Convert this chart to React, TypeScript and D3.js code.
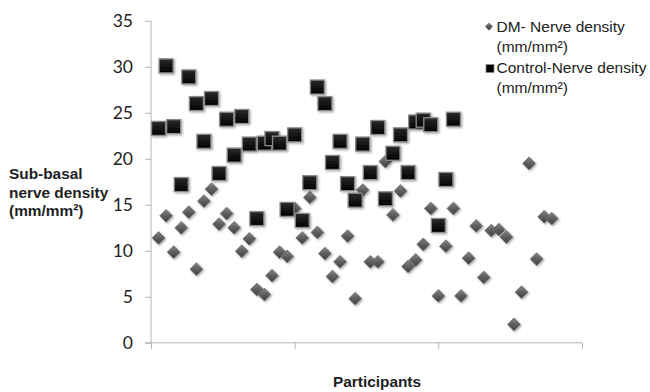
import React, { useEffect, useRef } from 'react';
import * as d3 from 'd3';

// Sub-basal nerve density per participant (mm/mm²)
const dmDensity = [
  11.4, 13.8, 9.85, 12.5, 14.2, 8.0, 15.4, 16.7, 12.9, 14.05,
  12.5, 9.95, 11.3, 5.8, 5.25, 7.3, 9.85, 9.4, 14.6, 11.4,
  15.8, 12.0, 9.7, 7.2, 8.8, 11.6, 4.8, 16.6, 8.8, 8.8,
  19.7, 13.9, 16.5, 8.3, 9.0, 10.7, 14.6, 5.1, 10.5, 14.6,
  5.1, 9.2, 12.7, 7.1, 12.2, 12.3, 11.5, 2.0, 5.5, 19.5,
  9.1, 13.7, 13.5,
];
const controlDensity = [
  23.3, 30.1, 23.5, 17.2, 28.9, 26.0, 21.9, 26.55, 18.4, 24.3,
  20.4, 24.6, 21.6, 13.5, 21.7, 22.2, 21.7, 14.5, 22.6, 13.3,
  17.4, 27.8, 26.0, 19.6, 21.9, 17.3, 15.5, 21.6, 18.5, 23.4,
  15.65, 20.6, 22.6, 18.5, 24.0, 24.2, 23.7, 12.75, 17.75, 24.3,
];
const yTicks = [0, 5, 10, 15, 20, 25, 30, 35];
const xTicks = [0, 19, 38, 57];
const legendLabels = [
  ['DM- Nerve density', '(mm/mm²)'],
  ['Control-Nerve density', '(mm/mm²)'],
];
const yTitle = ['Sub-basal', 'nerve density', '(mm/mm²)'];
const xTitle = 'Participants';

function App() {
  const svgRef = useRef<SVGSVGElement>(null);

  useEffect(() => {
    const width = 650;
    const height = 392;
    const svg = d3.select(svgRef.current).attr('width', width).attr('height', height);
    svg.selectAll('*').remove();

    const x = d3.scaleLinear().domain([0, 57]).range([151, 582]);
    const y = d3.scaleLinear().domain([0, 35]).range([342.8, 20.8]);

    const defs = svg.append('defs');
    const shadow = defs.append('filter').attr('id', 'shadow')
      .attr('x', '-40%').attr('y', '-40%').attr('width', '180%').attr('height', '180%');
    shadow.append('feDropShadow').attr('dx', 1.2).attr('dy', 1.2)
      .attr('stdDeviation', 1).attr('flood-color', '#000').attr('flood-opacity', 0.35);

    const dGrad = defs.append('linearGradient').attr('id', 'diamondGrad')
      .attr('x1', 0).attr('y1', 0).attr('x2', 0).attr('y2', 1);
    dGrad.append('stop').attr('offset', '0%').attr('stop-color', '#858585');
    dGrad.append('stop').attr('offset', '50%').attr('stop-color', '#5e5e5e');
    dGrad.append('stop').attr('offset', '100%').attr('stop-color', '#3f3f3f');

    const sGrad = defs.append('linearGradient').attr('id', 'squareGrad')
      .attr('x1', 0).attr('y1', 0).attr('x2', 0).attr('y2', 1);
    sGrad.append('stop').attr('offset', '0%').attr('stop-color', '#2a2a2a');
    sGrad.append('stop').attr('offset', '100%').attr('stop-color', '#000');

    // Axes
    const axisColor = '#b4b4b4';
    const yAxis = svg.append('g').attr('transform', `translate(${x(0)},0)`)
      .call(d3.axisLeft(y).tickValues(yTicks).tickSize(6).tickPadding(12).tickFormat(d3.format('d')));
    yAxis.select('.domain').attr('stroke', axisColor).attr('d', `M0,${y(35)}V${y(0)}`);
    yAxis.selectAll('.tick line').attr('stroke', axisColor);
    yAxis.selectAll('.tick text')
      .attr('font-family', 'Lato, "Open Sans", sans-serif')
      .attr('font-size', 17.5).attr('fill', '#1e1e1e');

    const xAxis = svg.append('g').attr('transform', `translate(0,${y(0)})`)
      .call(d3.axisBottom(x).tickValues(xTicks).tickSize(6).tickFormat(() => ''));
    xAxis.select('.domain').attr('stroke', axisColor).attr('d', `M${x(0) - 6},0H${x(57)}`);
    xAxis.selectAll('.tick line').attr('stroke', axisColor);

    const diamond = d3.symbol().type(d3.symbolDiamond2).size(104);

    // DM series
    svg.append('g').selectAll('path')
      .data(dmDensity)
      .enter()
      .append('path')
      .attr('d', diamond)
      .attr('transform', (d, i) => `translate(${x(i + 1)},${y(d)})`)
      .attr('fill', 'url(#diamondGrad)')
      .attr('stroke', '#6c6c6c')
      .attr('stroke-width', 0.8)
      .attr('filter', 'url(#shadow)');

    // Control series
    const sq = 14;
    svg.append('g').selectAll('rect')
      .data(controlDensity)
      .enter()
      .append('rect')
      .attr('x', (d, i) => x(i + 1) - sq / 2)
      .attr('y', d => y(d) - sq / 2)
      .attr('width', sq)
      .attr('height', sq)
      .attr('fill', 'url(#squareGrad)')
      .attr('stroke', '#8a8a8a')
      .attr('stroke-width', 1.3)
      .attr('filter', 'url(#shadow)');

    // Legend
    const legend = svg.append('g')
      .attr('font-family', '"Liberation Sans", Arial, sans-serif')
      .attr('font-size', 15.5).attr('fill', '#222');
    legend.append('path')
      .attr('d', d3.symbol().type(d3.symbolDiamond2).size(40)())
      .attr('transform', 'translate(489,26.5)')
      .attr('fill', 'url(#diamondGrad)');
    legend.append('rect')
      .attr('x', 486).attr('y', 64.5).attr('width', 8).attr('height', 8)
      .attr('fill', '#000').attr('stroke', '#8a8a8a').attr('stroke-width', 0.8);
    const baselines = [[32, 52], [73, 92.5]];
    legendLabels.forEach((lines, i) => {
      lines.forEach((line, j) => {
        legend.append('text')
          .attr('x', 496.5).attr('y', baselines[i][j])
          .text(line);
      });
    });

    // Axis titles
    const titles = svg.append('g')
      .attr('font-family', '"Liberation Sans", Arial, sans-serif')
      .attr('font-size', 15.4).attr('font-weight', 'bold').attr('fill', '#1e1e1e');
    yTitle.forEach((line, i) => {
      titles.append('text').attr('x', 9).attr('y', 179 + i * 18.5).text(line);
    });
    titles.append('text')
      .attr('x', 377).attr('y', 387)
      .attr('text-anchor', 'middle')
      .text(xTitle);
  }, []);

  return (
    <svg ref={svgRef} style={{ position: 'absolute', left: 0, top: 0, background: '#fff' }}></svg>
  );
}

export default App;
